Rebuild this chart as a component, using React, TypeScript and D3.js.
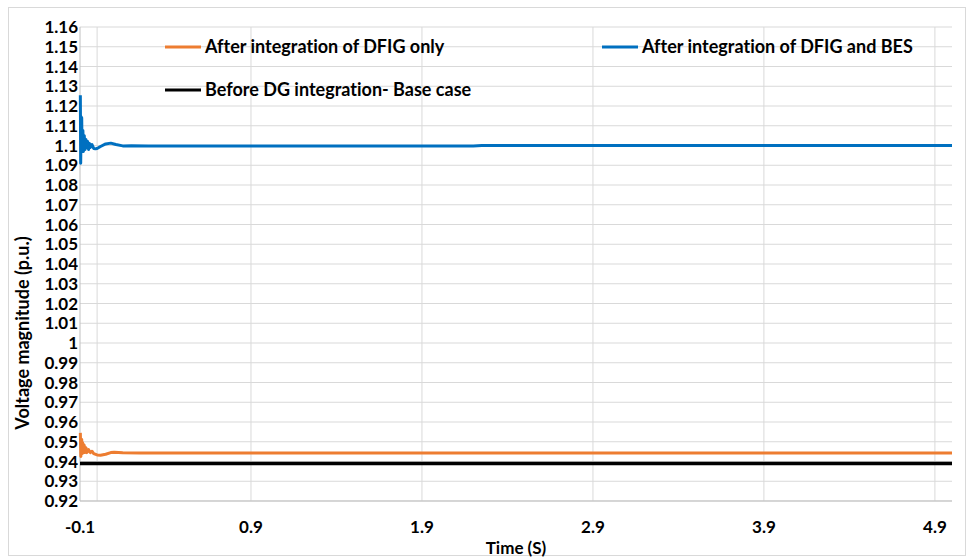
import React from 'react';
import * as d3 from 'd3';

// Time (s) and voltage (p.u.)
const dfigTime = [-0.098, -0.095, -0.092, -0.09, -0.087, -0.085, -0.083, -0.08, -0.077, -0.075, -0.07, -0.065, -0.06, -0.05, -0.04, -0.03, -0.02, 0.0, 0.02, 0.05, 0.08, 0.1, 0.15, 0.25, 1.0, 2.0, 3.0, 4.0, 5.0];
const dfigOnly = [0.9545, 0.9425, 0.9505, 0.9512, 0.944, 0.9495, 0.9478, 0.9445, 0.9485, 0.948, 0.9445, 0.947, 0.9445, 0.946, 0.9445, 0.9452, 0.944, 0.9433, 0.9432, 0.9437, 0.9445, 0.9447, 0.9444, 0.9443, 0.9443, 0.9443, 0.9443, 0.9443, 0.9443];

const besTime = [-0.098, -0.096, -0.093, -0.09, -0.088, -0.086, -0.083, -0.08, -0.078, -0.075, -0.07, -0.065, -0.06, -0.055, -0.05, -0.045, -0.04, -0.03, -0.02, -0.01, 0.0, 0.02, 0.05, 0.08, 0.11, 0.15, 0.2, 0.3, 1.0, 2.2, 2.25, 3.0, 4.0, 5.0];
const dfigBes = [1.1255, 1.091, 1.1145, 1.114, 1.098, 1.107, 1.1075, 1.097, 1.104, 1.105, 1.098, 1.103, 1.099, 1.102, 1.098, 1.101, 1.099, 1.1005, 1.0985, 1.0983, 1.0985, 1.0995, 1.1008, 1.1012, 1.1005, 1.0998, 1.0999, 1.0998, 1.0998, 1.0998, 1.1, 1.1, 1.1, 1.1];

const baseTime = [-0.1, 5.0];
const baseCase = [0.939, 0.939];

const xTicks = [-0.1, 0.9, 1.9, 2.9, 3.9, 4.9];
const yTicks = d3.range(92, 117).map((v) => v / 100);

const W = 971;
const H = 559;
const font = 'Lato, "Open Sans", sans-serif';

export default function App() {
  const x = d3.scaleLinear().domain([-0.1, 5.0]).range([80, 952]);
  const y = d3.scaleLinear().domain([0.92, 1.16]).range([501, 27]);

  const line = d3
    .line<[number, number]>()
    .x((d) => x(d[0]))
    .y((d) => y(d[1]));

  const series = [
    { t: baseTime, v: baseCase, color: '#000000', w: 3.5 },
    { t: dfigTime, v: dfigOnly, color: '#ED7D31', w: 3 },
    { t: besTime, v: dfigBes, color: '#0070C0', w: 3 },
  ];

  const legend = [
    { label: 'After integration of DFIG only', color: '#ED7D31', lx: 165, ly: 47 },
    { label: 'After integration of DFIG and BES', color: '#0070C0', lx: 602, ly: 47 },
    { label: 'Before DG integration- Base case', color: '#000000', lx: 165, ly: 90 },
  ];

  return (
    <svg
      width={W}
      height={H}
      style={{ position: 'absolute', left: 0, top: 0, background: '#fff', fontVariantLigatures: 'none' }}
      fontFamily={font}
    >
      <rect x={8.5} y={7.5} width={957} height={548} fill="none" stroke="#d9d9d9" />

      {/* horizontal grid */}
      {yTicks.map((t) => (
        <line key={'gy' + t} x1={80} x2={952} y1={y(t)} y2={y(t)} stroke="#d9d9d9" strokeWidth={1} />
      ))}
      {/* vertical grid */}
      {[0, ...xTicks.slice(1)].map((t) => (
        <line key={'gx' + t} x1={x(t)} x2={x(t)} y1={27} y2={501} stroke="#d9d9d9" strokeWidth={1} />
      ))}
      <line x1={80} x2={80} y1={27} y2={501} stroke="#bfbfbf" />
      <line x1={80} x2={952} y1={501} y2={501} stroke="#bfbfbf" />

      {/* y tick labels */}
      {yTicks.map((t) => (
        <text key={'ty' + t} x={78} y={y(t)} dy="0.36em" textAnchor="end" fontSize={17} fontWeight={700} fill="#000">
          {d3.format('')(+t.toFixed(2))}
        </text>
      ))}
      {/* x tick labels */}
      {xTicks.map((t) => (
        <text key={'tx' + t} x={x(t)} y={533} textAnchor="middle" fontSize={17} fontWeight={700} fill="#000">
          {t.toFixed(1)}
        </text>
      ))}

      {series.map((s, i) => (
        <path
          key={i}
          d={line(s.t.map((t, j) => [t, s.v[j]] as [number, number])) || ''}
          fill="none"
          stroke={s.color}
          strokeWidth={s.w}
          strokeLinejoin="round"
        />
      ))}

      {legend.map((l) => (
        <g key={l.label}>
          <line x1={l.lx} x2={l.lx + 36} y1={l.ly} y2={l.ly} stroke={l.color} strokeWidth={3} />
          <text x={l.lx + 40} y={l.ly} dy="0.36em" fontSize={18} fontWeight={700} fill="#000">
            {l.label}
          </text>
        </g>
      ))}

      <text x={516} y={554} textAnchor="middle" fontSize={17} fontWeight={700} fill="#000">
        Time (S)
      </text>
      <text
        transform={`translate(29,${333}) rotate(-90)`}
        textAnchor="middle"
        fontSize={18}
        fontWeight={700}
        fill="#000"
      >
        Voltage magnitude (p.u.)
      </text>
    </svg>
  );
}
